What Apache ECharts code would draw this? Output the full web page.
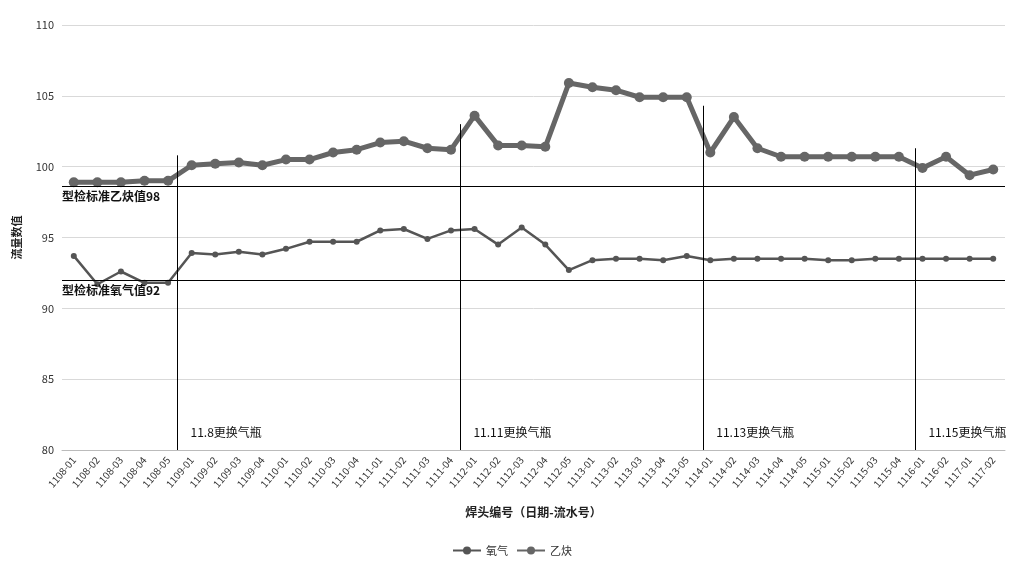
<!DOCTYPE html><html><head><meta charset="utf-8"><script src="https://cdn.jsdelivr.net/npm/echarts@6/dist/echarts.min.js"></script></head><body style="margin:0"><div id="c" style="width:1024px;height:569px"></div><script>
const categories=['1108-01','1108-02','1108-03','1108-04','1108-05','1109-01','1109-02','1109-03','1109-04','1110-01','1110-02','1110-03','1110-04','1111-01','1111-02','1111-03','1111-04','1112-01','1112-02','1112-03','1112-04','1112-05','1113-01','1113-02','1113-03','1113-04','1113-05','1114-01','1114-02','1114-03','1114-04','1114-05','1115-01','1115-02','1115-03','1115-04','1116-01','1116-02','1117-01','1117-02'];
const oxygen=[93.7,91.7,92.6,91.8,91.8,93.9,93.8,94.0,93.8,94.2,94.7,94.7,94.7,95.5,95.6,94.9,95.5,95.6,94.5,95.7,94.5,92.7,93.4,93.5,93.5,93.4,93.7,93.4,93.5,93.5,93.5,93.5,93.4,93.4,93.5,93.5,93.5,93.5,93.5,93.5];
const acetylene=[98.9,98.9,98.9,99.0,99.0,100.1,100.2,100.3,100.1,100.5,100.5,101.0,101.2,101.7,101.8,101.3,101.2,103.6,101.5,101.5,101.4,105.9,105.6,105.4,104.9,104.9,104.9,101.0,103.5,101.3,100.7,100.7,100.7,100.7,100.7,100.7,99.9,100.7,99.4,99.8];
const standards=[{v:98.6,t:'型检标准乙炔值98'},{v:92,t:'型检标准氧气值92'}];
const changes=[{x:4.4,t:'11.8更换气瓶'},{x:16.4,t:'11.11更换气瓶'},{x:26.7,t:'11.13更换气瓶'},{x:35.7,t:'11.15更换气瓶'}];
const F='"Noto Sans CJK SC",sans-serif';
const ch=echarts.init(document.getElementById('c'));
ch.setOption({
textStyle:{fontFamily:F},
grid:{left:62,right:19,top:25,bottom:119},
legend:{bottom:8,itemWidth:28,itemHeight:10,textStyle:{fontSize:11,color:'#333'},data:['氧气','乙炔']},
xAxis:[{type:'category',data:categories,name:'焊头编号（日期-流水号）',nameLocation:'middle',nameGap:56,nameTextStyle:{fontWeight:'bold',fontSize:12,color:'#222'},
axisLine:{lineStyle:{color:'#bbb'}},axisTick:{show:false},axisLabel:{interval:0,rotate:50,fontSize:10,color:'#333'}},
{type:'value',min:-0.5,max:39.5,show:false}],
yAxis:{type:'value',min:80,max:110,interval:5,name:'流量数值',nameLocation:'middle',nameGap:40,nameTextStyle:{fontWeight:'bold',fontSize:11,color:'#222'},
axisLine:{show:false},axisTick:{show:false},
axisLabel:{fontSize:11,color:'#333'},splitLine:{lineStyle:{color:'#d9d9d9'}}},
series:[
{name:'氧气',type:'line',data:oxygen,symbol:'circle',symbolSize:6,lineStyle:{width:2.5,color:'#555'},itemStyle:{color:'#555'},
markLine:{silent:true,symbol:'none',lineStyle:{color:'#000',width:1.2,type:'solid'},
data:standards.map(s=>({yAxis:s.v,label:{show:true,position:'insideStartBottom',formatter:s.t,color:'#111',fontSize:12,fontWeight:'bold',distance:[0,4]}}))}},
{name:'乙炔',type:'line',data:acetylene,symbol:'circle',symbolSize:10,lineStyle:{width:5,color:'#666'},itemStyle:{color:'#666'}},
{type:'line',xAxisIndex:1,data:[],markLine:{silent:true,symbol:'none',lineStyle:{color:'#000',width:1,type:'solid'},
data:changes.map((c,i)=>[{coord:[c.x,80],label:{show:true,position:'insideStartTop',formatter:c.t,color:'#111',fontSize:12,rotate:0,offset:[8,-7]}},{coord:[c.x,[100.8,103,104.3,101.3][i]]}])}}
]});
</script></body></html>
